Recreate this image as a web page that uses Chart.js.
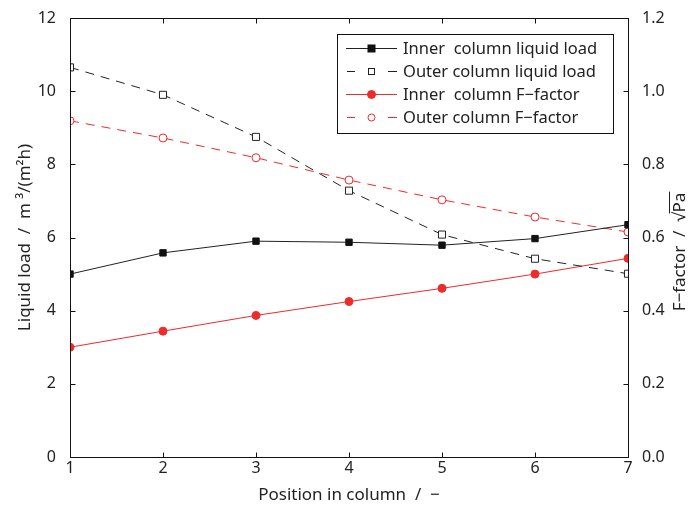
<!DOCTYPE html>
<html>
<head>
<meta charset="utf-8">
<script src="https://cdn.jsdelivr.net/npm/chart.js@4.4.1/dist/chart.umd.min.js"></script>
<style>
  html, body { margin: 0; padding: 0; background: #fff; }
  #wrap { width: 691px; height: 506px; }
</style>
</head>
<body>
<div id="wrap"><canvas id="chart"></canvas></div>
<script>
// positions along the column
const positions = [1, 2, 3, 4, 5, 6, 7];

// liquid load, m3/(m2h)
const innerLoad = [5.0, 5.58, 5.9, 5.87, 5.79, 5.97, 6.35];
const outerLoad = [10.65, 9.9, 8.75, 7.28, 6.08, 5.42, 5.01];

// F-factor, sqrt(Pa)
const innerF = [0.30, 0.344, 0.387, 0.425, 0.461, 0.50, 0.543];
const outerF = [0.919, 0.872, 0.818, 0.757, 0.703, 0.656, 0.615];

const leftTicks = [0, 2, 4, 6, 8, 10, 12];
const rightTicks = [0, 0.2, 0.4, 0.6, 0.8, 1.0, 1.2];

const RED = '#ee2b2b';
const FONT = '"Noto Sans", "Open Sans", sans-serif';

const toPoints = (xs, ys) => xs.map((x, i) => ({ x: x, y: ys[i] }));

// frame, inward ticks, right axis title and legend
const framePlugin = {
    id: 'frame',
    afterDraw(chart) {
        const ctx = chart.ctx;
        const a = chart.chartArea;
        const x = chart.scales.x, yl = chart.scales.yL, yr = chart.scales.yR;
        const L = Math.round(a.left) + 0.5, R = Math.round(a.right) + 0.5;
        const T = Math.round(a.top) + 0.5, B = Math.round(a.bottom) + 0.5;
        ctx.save();
        ctx.strokeStyle = '#111';
        ctx.lineWidth = 1;
        ctx.beginPath();
        ctx.moveTo(L, T); ctx.lineTo(R, T); ctx.lineTo(R, B); ctx.lineTo(L, B); ctx.closePath();
        const tl = 5;
        positions.forEach(p => {
            const px = Math.round(x.getPixelForValue(p)) + 0.5;
            ctx.moveTo(px, B); ctx.lineTo(px, B - tl);
            ctx.moveTo(px, T); ctx.lineTo(px, T + tl);
        });
        leftTicks.forEach(t => {
            const py = Math.round(yl.getPixelForValue(t)) + 0.5;
            ctx.moveTo(L, py); ctx.lineTo(L + tl, py);
        });
        rightTicks.forEach(t => {
            const py = Math.round(yr.getPixelForValue(t)) + 0.5;
            ctx.moveTo(R, py); ctx.lineTo(R - tl, py);
        });
        ctx.stroke();

        // right axis title with radical bar
        ctx.fillStyle = '#222';
        ctx.font = '17px ' + FONT;
        ctx.translate(680, 252);
        ctx.rotate(-Math.PI / 2);
        ctx.textBaseline = 'middle';
        const t1 = 'F\u2212factor  /  \u221A';
        const t2 = 'Pa';
        const w1 = ctx.measureText(t1).width, w2 = ctx.measureText(t2).width;
        const sx = -(w1 + w2) / 2;
        ctx.fillText(t1, sx, 0);
        ctx.fillText(t2, sx + w1, 0);
        ctx.beginPath();
        ctx.lineWidth = 1;
        ctx.strokeStyle = '#222';
        ctx.moveTo(sx + w1 - 1, -10.5);
        ctx.lineTo(sx + w1 + w2 + 1, -10.5);
        ctx.stroke();
        ctx.restore();

        // legend
        ctx.save();
        const lx = 337, ly = 34, lw = 276, lh = 99;
        ctx.fillStyle = '#fff';
        ctx.fillRect(lx, ly, lw, lh);
        ctx.strokeStyle = '#111';
        ctx.lineWidth = 1;
        ctx.strokeRect(lx + 0.5, ly + 0.5, lw, lh);
        ctx.font = '16.5px ' + FONT;
        ctx.textBaseline = 'middle';
        chart.data.datasets.forEach((ds, i) => {
            const cy = Math.round(ly + 14 + i * 23) + 0.5;
            ctx.strokeStyle = ds.borderColor;
            ctx.lineWidth = 1;
            ctx.beginPath();
            if (ds.borderDash) {
                ctx.moveTo(347, cy); ctx.lineTo(355, cy);
                ctx.moveTo(388, cy); ctx.lineTo(397, cy);
            } else {
                ctx.moveTo(346, cy); ctx.lineTo(397, cy);
            }
            ctx.stroke();
            const mx = 371.5;
            ctx.fillStyle = ds.pointBackgroundColor;
            ctx.strokeStyle = ds.pointBorderColor;
            if (ds.pointStyle === 'rect') {
                const h = ds.borderDash ? 3 : 3.5;
                ctx.fillRect(mx - h, cy - h, h * 2, h * 2);
                ctx.strokeRect(mx - h, cy - h, h * 2, h * 2);
            } else {
                ctx.beginPath();
                ctx.arc(mx, cy, ds.borderDash ? 3.5 : 4, 0, Math.PI * 2);
                ctx.fill();
                ctx.stroke();
            }
            ctx.fillStyle = '#222';
            ctx.fillText(ds.label, 403, cy + 1);
        });
        ctx.restore();
    }
};

new Chart(document.getElementById('chart'), {
    type: 'line',
    data: {
        datasets: [
            {
                label: 'Inner  column liquid load',
                data: toPoints(positions, innerLoad),
                yAxisID: 'yL',
                borderColor: '#222',
                borderWidth: 1,
                pointStyle: 'rect',
                pointRadius: 4.5,
                pointBackgroundColor: '#111',
                pointBorderColor: '#111',
                pointBorderWidth: 1
            },
            {
                label: 'Outer column liquid load',
                data: toPoints(positions, outerLoad),
                yAxisID: 'yL',
                borderColor: '#222',
                borderWidth: 1,
                borderDash: [9, 7],
                pointStyle: 'rect',
                pointRadius: 5,
                pointBackgroundColor: '#fff',
                pointBorderColor: '#222',
                pointBorderWidth: 1
            },
            {
                label: 'Inner  column F\u2212factor',
                data: toPoints(positions, innerF),
                yAxisID: 'yR',
                borderColor: RED,
                borderWidth: 1,
                pointStyle: 'circle',
                pointRadius: 4,
                pointBackgroundColor: RED,
                pointBorderColor: RED,
                pointBorderWidth: 1
            },
            {
                label: 'Outer column F\u2212factor',
                data: toPoints(positions, outerF),
                yAxisID: 'yR',
                borderColor: RED,
                borderWidth: 1,
                borderDash: [9, 7],
                pointStyle: 'circle',
                pointRadius: 4,
                pointBackgroundColor: '#fff',
                pointBorderColor: RED,
                pointBorderWidth: 1
            }
        ]
    },
    options: {
        responsive: true,
        maintainAspectRatio: false,
        animation: false,
        layout: { padding: { top: 18, right: 0, left: 0, bottom: 0 } },
        plugins: { legend: { display: false }, tooltip: { enabled: false } },
        scales: {
            x: {
                type: 'linear',
                min: 1, max: 7,
                afterBuildTicks: s => { s.ticks = positions.map(v => ({ value: v })); },
                afterFit: s => { s.height = 49; },
                grid: { display: false },
                border: { display: false },
                ticks: { color: '#222', font: { family: FONT, size: 16 }, padding: -6, maxRotation: 0 },
                title: {
                    display: true,
                    text: 'Position in column  /  \u2212',
                    color: '#222',
                    font: { family: FONT, size: 17 },
                    padding: { top: 0, bottom: 1 }
                }
            },
            yL: {
                position: 'left',
                min: 0, max: 12,
                afterBuildTicks: s => { s.ticks = leftTicks.map(v => ({ value: v })); },
                afterFit: s => { s.width = 70; },
                grid: { display: false },
                border: { display: false },
                ticks: { color: '#222', font: { family: FONT, size: 16 }, padding: 6 },
                title: {
                    display: true,
                    text: 'Liquid load  /  m \u00B3/(m\u00B2h)',
                    color: '#222',
                    font: { family: FONT, size: 17 },
                    padding: { top: 15, bottom: 0 }
                }
            },
            yR: {
                position: 'right',
                min: 0, max: 1.2,
                afterBuildTicks: s => { s.ticks = rightTicks.map(v => ({ value: v })); },
                afterFit: s => { s.width = 63; },
                grid: { display: false },
                border: { display: false },
                ticks: {
                    color: '#222', font: { family: FONT, size: 16 }, padding: 6,
                    callback: v => v.toFixed(1)
                }
            }
        }
    },
    plugins: [framePlugin]
});
</script>
</body>
</html>
